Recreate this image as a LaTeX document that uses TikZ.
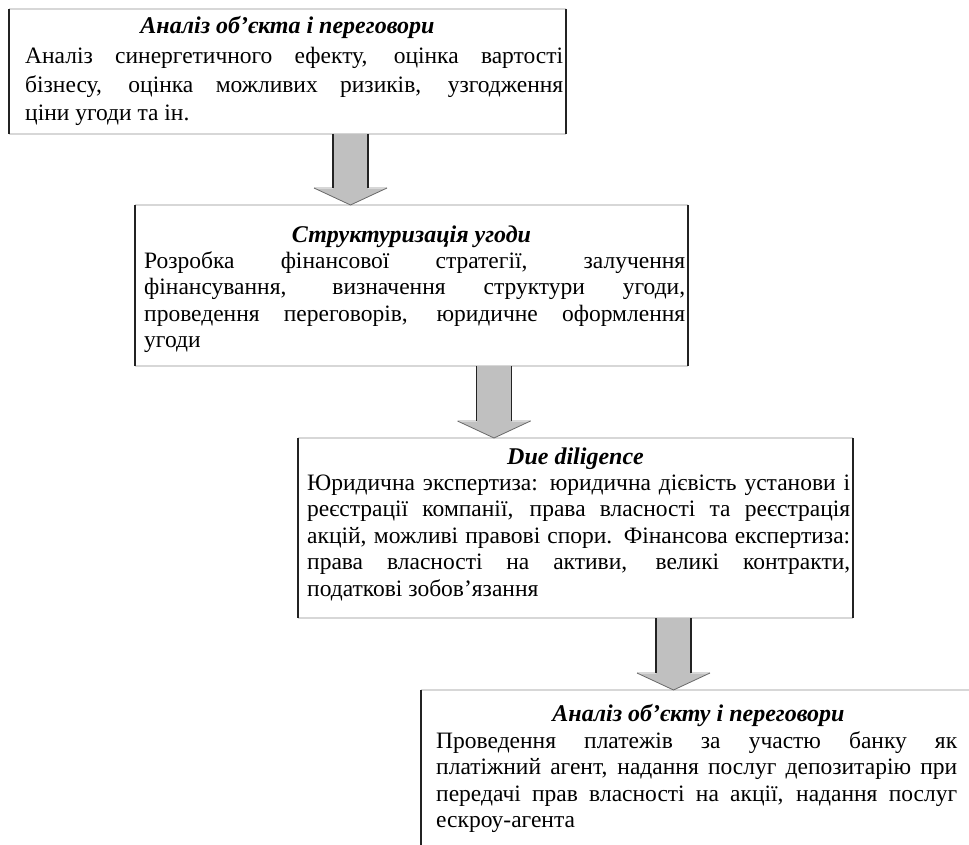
\documentclass[tikz,border=0pt]{standalone}
\usepackage{fontspec}
\setmainfont{Liberation Serif}
\usetikzlibrary{calc}
\definecolor{arrowgray}{RGB}{192,192,192}
\definecolor{hlinecol}{RGB}{215,215,215}
\definecolor{vlinecol}{RGB}{35,35,35}
\definecolor{dlinecol}{RGB}{105,105,105}
\tikzset{
  frame/.style={inner sep=0pt, outer sep=0pt, anchor=north west},
  hedge/.style={draw=hlinecol, line width=1.2pt},
  vedge/.style={draw=vlinecol, line width=1.6pt},
  dedge/.style={draw=dlinecol, line width=0.8pt},
  bodytext/.style={font=\fontsize{23.5}{28}\selectfont, inner sep=0pt, anchor=base west},
  titletext/.style={font=\fontsize{24}{28}\selectfont\bfseries\itshape, inner sep=0pt, anchor=base},
}
\newcommand\jline[2]{\makebox[#1][s]{#2}}
\newcommand\boxborders[1]{%
  \draw[hedge] (#1.north west) -- (#1.north east);
  \draw[hedge] (#1.south west) -- (#1.south east);
  \draw[vedge] (#1.north west) -- (#1.south west);
  \draw[vedge] (#1.north east) -- (#1.south east);
}
\newcommand\blockarrow[2]{%
  \fill[arrowgray] ($(#1)+(-17.5,0)$) -- ($(#2)+(-17.5,-17)$) -- ($(#2)+(-36.5,-17)$) -- (#2)
     -- ($(#2)+(36.5,-17)$) -- ($(#2)+(17.5,-17)$) -- ($(#1)+(17.5,0)$) -- cycle;
  \draw[hedge] ($(#2)+(-36.5,-17)$) -- ($(#2)+(-17.5,-17)$);
  \draw[hedge] ($(#2)+(36.5,-17)$) -- ($(#2)+(17.5,-17)$);
  \draw[dedge] ($(#2)+(-36.5,-17)$) -- (#2) -- ($(#2)+(36.5,-17)$);
  \draw[vedge] ($(#1)+(-17.5,0)$) -- ($(#2)+(-17.5,-17)$);
  \draw[vedge] ($(#1)+(17.5,0)$) -- ($(#2)+(17.5,-17)$);
}
\begin{document}
\begin{tikzpicture}[x=1pt,y=-1pt]
\useasboundingbox (0,0) rectangle (969,845);
\clip (0,0) rectangle (969,845);
\fill[white] (0,0) rectangle (969,845);

% boxes
\node[frame, minimum width=557pt, minimum height=125pt] (b1) at (9,9) {};
\node[frame, minimum width=553pt, minimum height=161pt] (b2) at (135,205) {};
\node[frame, minimum width=555pt, minimum height=180pt] (b3) at (298,438) {};
\node[frame, minimum width=555pt, minimum height=200pt] (b4) at (421,690) {};
\boxborders{b1}
\boxborders{b2}
\boxborders{b3}
\boxborders{b4}

% arrows
\coordinate (a1x) at (350.5,0);
\coordinate (a2x) at (494,0);
\coordinate (a3x) at (673.5,0);
\coordinate (a1s) at (a1x |- b1.south);
\coordinate (a1e) at (a1x |- b2.north);
\coordinate (a2s) at (a2x |- b2.south);
\coordinate (a2e) at (a2x |- b3.north);
\coordinate (a3s) at (a3x |- b3.south);
\coordinate (a3e) at (a3x |- b4.north);
\blockarrow{a1s}{a1e}
\blockarrow{a2s}{a2e}
\blockarrow{a3s}{a3e}

% box 1 text
\node[titletext] (t1) at (b1.center |- 0,34) {Аналіз об’єкта і переговори};
\node[bodytext] (l11) at (25,64) {\jline{538pt}{Аналіз синергетичного ефекту, оцінка вартості}};
\node[bodytext] (l12) at (25,92.5) {\jline{538pt}{бізнесу, оцінка можливих ризиків, узгодження}};
\node[bodytext] (l13) at (25,121) {ціни угоди та ін.};

% box 2 text
\node[titletext] (t2) at (b2.center |- 0,243) {Структуризація угоди};
\node[bodytext] (l21) at (144,268) {\jline{541pt}{Розробка фінансової стратегії, залучення}};
\node[bodytext] (l22) at (144,294.5) {\jline{541pt}{фінансування, визначення структури угоди,}};
\node[bodytext] (l23) at (144,321) {\jline{541pt}{проведення переговорів, юридичне оформлення}};
\node[bodytext] (l24) at (144,347.5) {угоди};

% box 3 text
\node[titletext] (t3) at (b3.center |- 0,464) {Due diligence};
\node[bodytext] (l31) at (307,490) {\jline{543pt}{Юридична экспертиза: юридична дієвість установи і}};
\node[bodytext] (l32) at (307,516.5) {\jline{543pt}{реєстрації компанії, права власності та реєстрація}};
\node[bodytext] (l33) at (307,543) {\jline{543pt}{акцій, можливі правові спори. Фінансова експертиза:}};
\node[bodytext] (l34) at (307,569.5) {\jline{543pt}{права власності на активи, великі контракти,}};
\node[bodytext] (l35) at (307,596) {податкові зобов’язання};

% box 4 text
\node[titletext] (t4) at (b4.center |- 0,721) {Аналіз об’єкту і переговори};
\node[bodytext] (l41) at (436,748) {\jline{521pt}{Проведення платежів за участю банку як}};
\node[bodytext] (l42) at (436,774.5) {\jline{521pt}{платіжний агент, надання послуг депозитарію при}};
\node[bodytext] (l43) at (436,801) {\jline{521pt}{передачі прав власності на акції, надання послуг}};
\node[bodytext] (l44) at (436,827.5) {ескроу-агента};
\end{tikzpicture}
\end{document}
